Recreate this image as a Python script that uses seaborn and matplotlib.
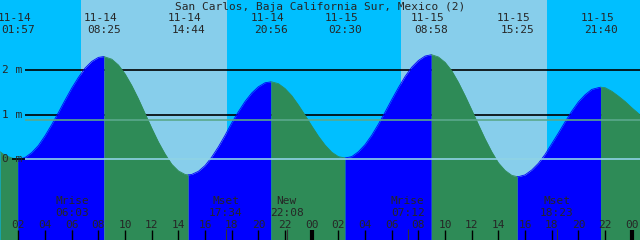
import seaborn as sns
import matplotlib.pyplot as plt
import pandas as pd

# tide extremes (height in m)
tide_dates = ["11-14", "11-14", "11-14", "11-14", "11-15", "11-15", "11-15", "11-15"]
tide_clock = ["01:57", "08:25", "14:44", "20:56", "02:30", "08:58", "15:25", "21:40"]
tide_heights = [0.00, 2.31, -0.35, 1.74, 0.03, 2.35, -0.39, 1.62]

# curve every half hour, hours from 11-14 00:00
curve_hours = [0.62] + [1 + k * 0.5 for k in range(95)] + [48.62]
curve_heights = [0.17,
                 0.09, 0.03, 0.00, 0.04, 0.15, 0.31, 0.53, 0.78, 1.05, 1.33,
                 1.60, 1.84, 2.05, 2.20, 2.29, 2.30, 2.25, 2.12, 1.92, 1.66,
                 1.36, 1.03, 0.70, 0.39, 0.12, -0.11, -0.26, -0.34, -0.34, -0.27,
                 -0.14, 0.05, 0.28, 0.54, 0.82, 1.07, 1.30, 1.49, 1.63, 1.72,
                 1.74, 1.70, 1.59, 1.43, 1.22, 0.99, 0.75, 0.52, 0.32, 0.16,
                 0.06, 0.03, 0.06, 0.17, 0.33, 0.54, 0.79, 1.06, 1.34, 1.61,
                 1.86, 2.07, 2.22, 2.32, 2.35, 2.30, 2.18, 1.99, 1.73, 1.43,
                 1.11, 0.78, 0.46, 0.17, -0.08, -0.25, -0.36, -0.39, -0.35, -0.24,
                 -0.09, 0.11, 0.35, 0.59, 0.84, 1.08, 1.29, 1.45, 1.57, 1.61,
                 1.61, 1.53, 1.42, 1.30, 1.16,
                 1.00]

# sunrise / sunset
day_spans = [(6.70, 17.65), (30.70, 41.65)]

# moon events
moon_names = ["Mrise", "Mset", "New", "Mrise", "Mset"]
moon_clock = ["06:03", "17:34", "22:08", "07:12", "18:23"]
moon_day = [0, 0, 0, 1, 1]

mean_level = 0.88
y_ticks = [0, 1, 2]
hour_ticks = list(range(2, 49, 2))

T0, T1 = 0.62, 48.62
PX = 640 / 48.0


def hrs(clock, day):
    hh, mm = clock.split(":")
    return day * 24 + int(hh) + int(mm) / 60.0


def ypx(y):
    return (159.3 - y) / 44.5


def xpx(x):
    return T0 + x / PX


tide_hours = [hrs(c, 0 if d == "11-14" else 1) for c, d in zip(tide_clock, tide_dates)]

df = pd.DataFrame({"t": tide_hours + curve_hours, "h": tide_heights + curve_heights})
df = df.sort_values("t").drop_duplicates("t").reset_index(drop=True)

sns.set_theme(style="white")
plt.rcParams["font.family"] = ["DejaVu Sans Mono"]

fig = plt.figure(figsize=(6.4, 2.4), dpi=100)
ax = fig.add_axes([0, 0, 1, 1])
ax.set_xlim(T0, T1)
ax.set_ylim(ypx(240), ypx(0))
ax.axis("off")

night, day = "#00bfff", "#87ceeb"
rise, fall = "#0000ff", "#2e8b57"
ax.axvspan(T0, T1, color=night, zorder=0, lw=0)
for a, b in day_spans:
    ax.axvspan(a, b, color=day, zorder=0, lw=0)

for lv in [1, 2]:
    ax.hlines(lv, xpx(25), T1, color="black", lw=1.2, zorder=1)

bounds = [T0] + tide_hours + [T1]
for i in range(len(bounds) - 1):
    seg = df[(df.t >= bounds[i]) & (df.t <= bounds[i + 1])]
    # extremes alternate low/high; first segment falls to a low
    col = fall if i % 2 == 0 else rise
    ax.fill_between(seg.t, seg.h, ypx(240), color=col, lw=0, zorder=2)
    sns.lineplot(x=seg.t.values, y=seg.h.values, color=col, lw=0.6, ax=ax,
                 zorder=2, estimator=None)

ax.hlines(mean_level, xpx(25), T1, color="#5aa88c", lw=1.2, zorder=3)
ax.hlines(0, xpx(25), T1, color="#8fd3e6", lw=1.2, zorder=3)
ax.hlines(0, xpx(12), xpx(25), color="black", lw=1.2, zorder=3)

fs = 8
for lv in y_ticks:
    ax.text(xpx(1.5), lv, f"{lv} m", ha="left", va="center", fontsize=fs, zorder=4)

ax.text(xpx(320), ypx(7), "San Carlos, Baja California Sur, Mexico (2)",
        ha="center", va="center", fontsize=fs, zorder=4)

for d, c, t in zip(tide_dates, tide_clock, tide_hours):
    ax.text(t - 3.5 / PX, ypx(18), d, ha="center", va="center", fontsize=fs, zorder=4)
    ax.text(t, ypx(30), c, ha="center", va="center", fontsize=fs, zorder=4)

for n, c, d in zip(moon_names, moon_clock, moon_day):
    t = hrs(c, d)
    ax.text(t, ypx(201), n, ha="center", va="center", fontsize=fs, zorder=4)
    ax.text(t, ypx(213), c, ha="center", va="center", fontsize=fs, zorder=4)
    ax.vlines(t, ypx(240), ypx(229), color="#333333", lw=0.8, zorder=4)

for h in hour_ticks:
    ax.text(h, ypx(225), f"{h % 24:02d}", ha="center", va="center", fontsize=fs, zorder=4)
    ax.vlines(h, ypx(240), ypx(230), color="black",
              lw=3 if h % 24 == 0 else 1, zorder=4)

fig.savefig("out.png", dpi=100)
